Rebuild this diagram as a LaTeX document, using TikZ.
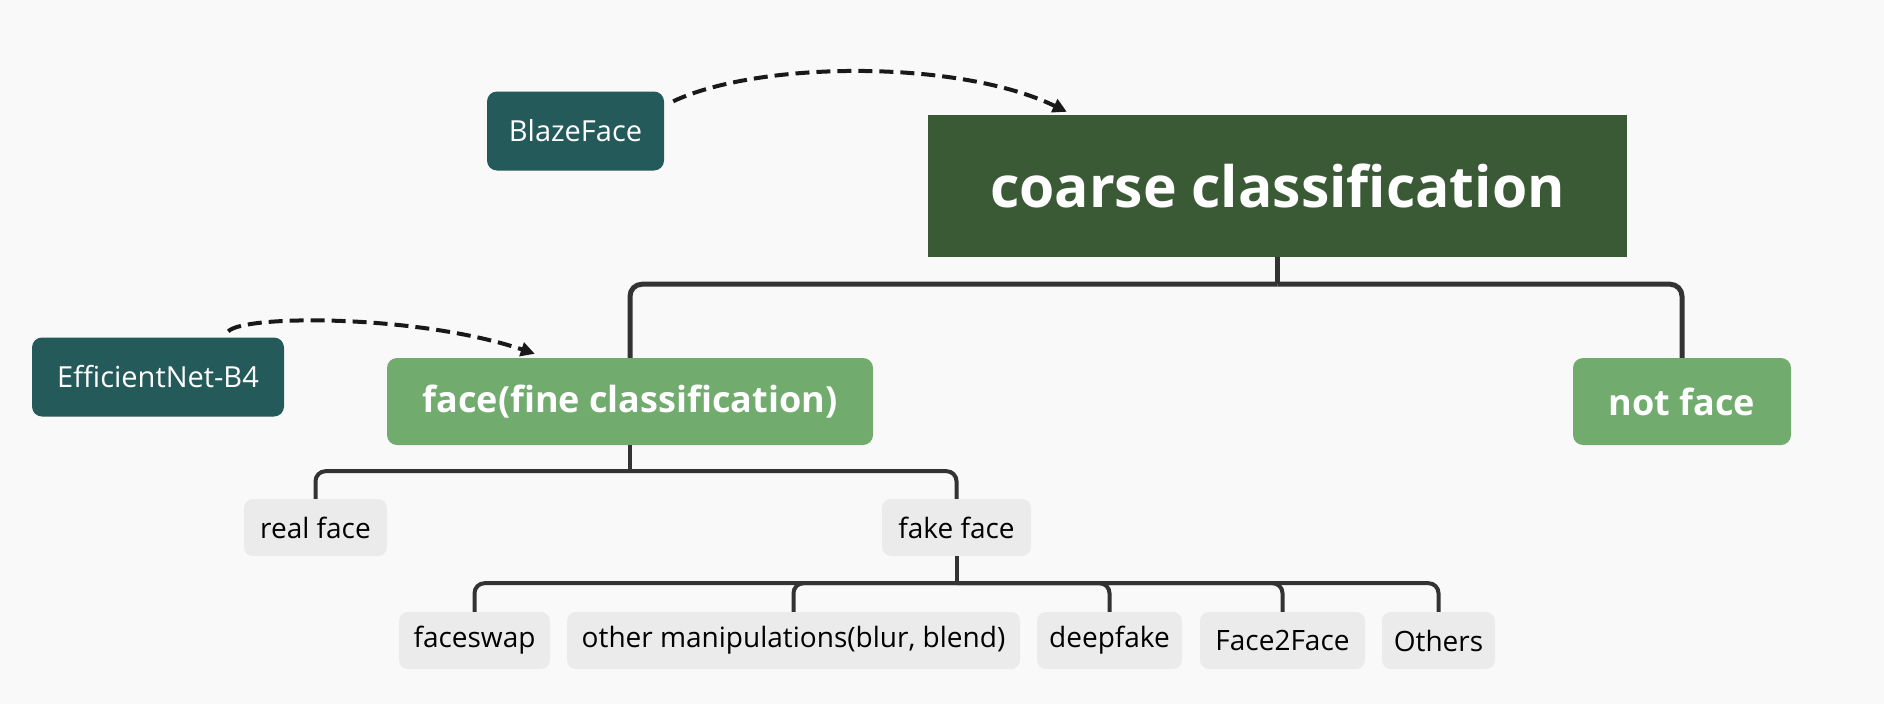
\documentclass[tikz,border=0pt]{standalone}
\usepackage{fontspec}
\setmainfont{Open Sans}[Ligatures=NoCommon]
\usetikzlibrary{calc,arrows.meta}
\definecolor{bgc}{HTML}{F9F9F9}
\definecolor{tealc}{HTML}{245A59}
\definecolor{darkg}{HTML}{3A5A35}
\definecolor{lightg}{HTML}{71AC6E}
\definecolor{greyc}{HTML}{EBEBEB}
\definecolor{linec}{HTML}{333333}
\tikzset{
  toolbox/.style={draw=none,fill=tealc,rounded corners=10pt,text=white,inner sep=0pt,
    font=\fontsize{29}{34}\selectfont,minimum height=79pt},
  rootbox/.style={draw=none,fill=darkg,text=white,inner sep=0pt,
    font=\fontsize{57}{67}\selectfont\bfseries,minimum width=699pt,minimum height=142pt},
  midbox/.style={draw=none,fill=lightg,rounded corners=10pt,text=white,inner sep=0pt,
    font=\fontsize{36}{43}\selectfont\bfseries,minimum height=87pt},
  leafbox/.style={draw=none,fill=greyc,rounded corners=9pt,text=black,inner sep=0pt,
    font=\fontsize{28}{33}\selectfont,minimum height=57pt},
  treeline/.style={draw=linec,line width=4pt,rounded corners=10pt},
  bigline/.style={draw=linec,line width=5pt,rounded corners=12pt},
  dasharrow/.style={draw=black!90,line width=4pt,dash pattern=on 14pt off 7pt,
    -{Triangle[length=14pt,width=14pt]}},
}
\begin{document}
\begin{tikzpicture}[x=1pt,y=-1pt]
\fill[bgc] (0,0) rectangle (1884,704);
\useasboundingbox (0,0) rectangle (1884,704);

\node[rootbox] (coarse) at (1277.5,186) {coarse classification};
\node[toolbox,minimum width=177pt] (blaze) at (575.5,131) {BlazeFace};
\node[toolbox,minimum width=252pt] (effnet) at (158,377) {EfficientNet-B4};
\node[midbox,minimum width=486pt] (face) at (630,401.5) {face(fine classification)};
\node[midbox,minimum width=218pt] (notface) at (1682,401.5) {not face};
\node[leafbox,minimum width=143pt] (real) at (315.5,527.5) {real face};
\node[leafbox,minimum width=149pt] (fake) at (956.5,527.5) {fake face};
\node[leafbox,minimum width=151pt] (fswap) at (474.5,640.5) {faceswap};
\node[leafbox,minimum width=453pt] (other) at (793.5,640.5) {other manipulations(blur, blend)};
\node[leafbox,minimum width=145pt] (deep) at (1109.5,640.5) {deepfake};
\node[leafbox,minimum width=165pt] (ftf) at (1282.5,640.5) {Face2Face};
\node[leafbox,minimum width=113pt] (others) at (1438.5,640.5) {Others};

% coarse level
\draw[bigline] (coarse.south) -- ++(0,27) coordinate (cj);
\draw[bigline] (cj) -| (face.north);
\draw[bigline] (cj) -| (notface.north);
% face level
\draw[treeline] (face.south) -- ++(0,26) coordinate (fj);
\draw[treeline] (fj) -| (real.north);
\draw[treeline] (fj) -| (fake.north);
% fake level
\draw[treeline] (fake.south) -- ++(0,27) coordinate (kj);
\foreach \c in {fswap,other,deep,ftf,others}{
  \draw[treeline] (kj) -| (\c.north);
}

% dashed arrows
\draw[dasharrow] ($(blaze.north east)+(9,10)$) .. controls +(87,-41) and ($(coarse.north west)+(32,-55)$) .. ($(coarse.north west)+(139,-3)$);
\draw[dasharrow] ($(effnet.north east)+(-56,-6)$) .. controls +(17,-17) and ($(face.north west)+(33,-43)$) .. ($(face.north west)+(148,-4)$);
\end{tikzpicture}
\end{document}
